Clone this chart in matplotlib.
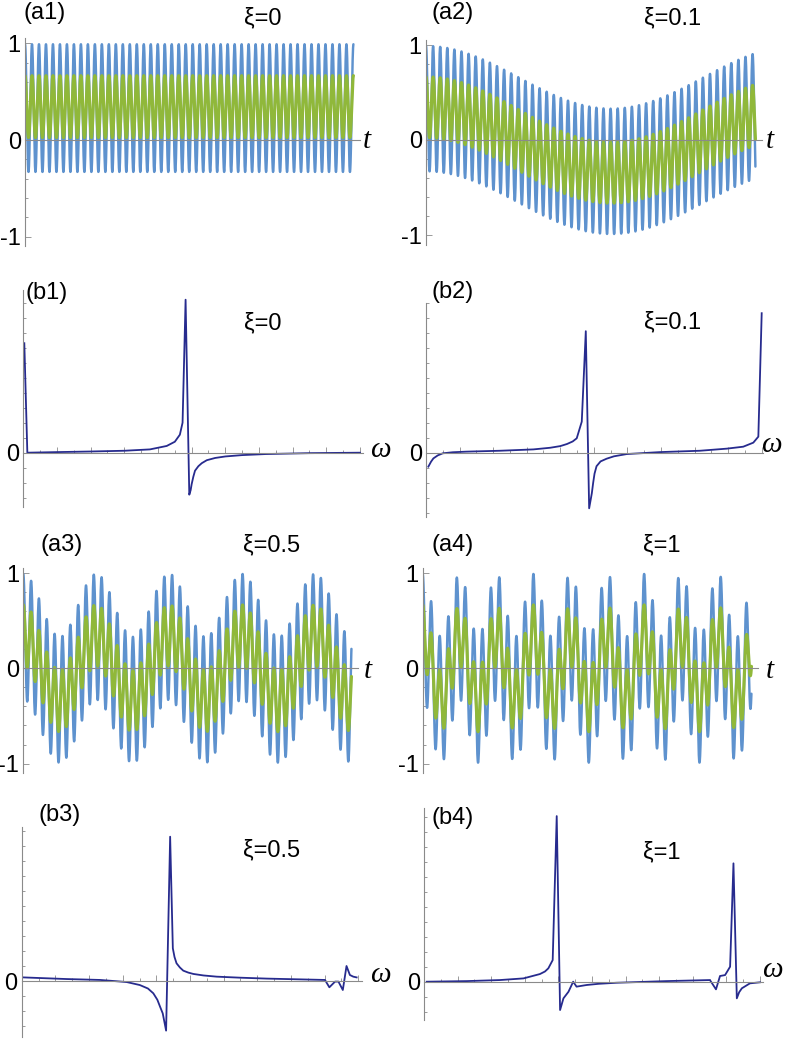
import numpy as np
import matplotlib
matplotlib.use('Agg')
import matplotlib.pyplot as plt
from matplotlib.ticker import MultipleLocator

plt.rcParams['font.family'] = ['Liberation Sans', 'DejaVu Sans']
plt.rcParams['axes.unicode_minus'] = False

# ---- time signals (a1..a4) ----
a_labels = ['(a1)', '(a2)', '(a3)', '(a4)']
a_xi = ['ξ=0', 'ξ=0.1', 'ξ=0.5', 'ξ=1']
fast_cycles = [47.0, 46.4, 41.9, 38.6]   # fast oscillations across the window
slow_cycles = [0.0, 0.89, 4.5, 8.9]      # slow drift cycles across the window
blue_offset = [0.33, 0.33, 0.33, 0.33]
blue_amp = [0.66, 0.66, 0.66, 0.66]
green_offset = [0.345, 0.345, 0.345, 0.345]
green_amp = [0.32, 0.32, 0.32, 0.32]

# ---- spectra (b1..b4): omega as fraction of plotted range, value in arb. units ----
b_labels = ['(b1)', '(b2)', '(b3)', '(b4)']
b_xi = ['ξ=0', 'ξ=0.1', 'ξ=0.5', 'ξ=1']
b1_w = [0.003, 0.012, 0.1, 0.2, 0.3, 0.376, 0.426, 0.45, 0.465, 0.473, 0.482,
        0.493, 0.497, 0.50, 0.505, 0.51, 0.52, 0.53, 0.545, 0.57, 0.6, 0.65,
        0.72, 0.85, 1.0]
b1_s = [0.73, 0.0, 0.004, 0.008, 0.013, 0.022, 0.045, 0.073, 0.12, 0.2, 1.02,
        -0.28, -0.25, -0.21, -0.16, -0.12, -0.09, -0.07, -0.05, -0.035, -0.025,
        -0.016, -0.009, -0.003, 0.0]
b2_w = [0.007, 0.015, 0.022, 0.035, 0.05, 0.08, 0.12, 0.22, 0.32, 0.37, 0.40,
        0.42, 0.437, 0.449, 0.464, 0.476, 0.486, 0.494, 0.498, 0.502, 0.508,
        0.52, 0.538, 0.56, 0.598, 0.697, 0.816, 0.896, 0.945, 0.975, 0.99, 1.0]
b2_s = [-0.093, -0.06, -0.038, -0.018, -0.004, 0.003, 0.007, 0.013, 0.022, 0.033,
        0.044, 0.058, 0.075, 0.096, 0.207, 0.81, -0.371, -0.27, -0.2, -0.14,
        -0.09, -0.058, -0.04, -0.024, -0.009, 0.004, 0.013, 0.027, 0.04, 0.067,
        0.107, 0.93]
b3_w = [0.005, 0.134, 0.233, 0.312, 0.351, 0.375, 0.391, 0.403, 0.411, 0.419,
        0.429, 0.441, 0.449, 0.454, 0.46, 0.47, 0.48, 0.495, 0.51, 0.54, 0.579,
        0.65, 0.728, 0.901, 0.914, 0.931, 0.941, 0.954, 0.965, 0.975, 0.985,
        0.995]
b3_s = [0.024, 0.013, 0.007, -0.007, -0.027, -0.05, -0.082, -0.125, -0.171, -0.216,
        -0.331, 0.962, 0.218, 0.16, 0.118, 0.09, 0.069, 0.056, 0.047, 0.037, 0.029,
        0.022, 0.016, 0.007, -0.042, -0.004, -0.004, -0.06, 0.1, 0.04, 0.029,
        0.024]
b4_w = [0.008, 0.127, 0.226, 0.296, 0.345, 0.36, 0.37, 0.383, 0.395, 0.405,
        0.415, 0.43, 0.444, 0.454, 0.484, 0.52, 0.573, 0.722, 0.851, 0.869,
        0.881, 0.896, 0.911, 0.921, 0.931, 0.938, 0.946, 0.97, 1.0]
b4_s = [0.0, 0.004, 0.011, 0.022, 0.051, 0.068, 0.089, 0.144, 1.104, -0.189,
        -0.111, -0.067, 0.0, -0.033, -0.022, -0.014, -0.007, 0.004, 0.011, -0.051,
        0.038, 0.044, 0.1, 0.789, -0.111, -0.07, -0.044, -0.011, -0.004]
b_w = [b1_w, b2_w, b3_w, b4_w]
b_s = [b1_s, b2_s, b3_s, b4_s]

W, H = 787, 1043
fig = plt.figure(figsize=(W / 100, H / 100), dpi=100)

AX_COL = '#8a8a8a'
BLUE = '#5E92CE'
GREEN = '#90B83A'
NAVY = '#272B8E'


def px_axes(left, right, top, bottom):
    return fig.add_axes([left / W, 1 - bottom / H, (right - left) / W, (bottom - top) / H])


def style(ax):
    for s in ['top', 'right']:
        ax.spines[s].set_visible(False)
    ax.spines['bottom'].set_position(('data', 0))
    for s in ['left', 'bottom']:
        ax.spines[s].set_color(AX_COL)
        ax.spines[s].set_linewidth(0.8)
    ax.tick_params(which='both', direction='in', color=AX_COL, width=0.6,
                   labelsize=17, pad=3)
    ax.tick_params(which='major', length=4)
    ax.tick_params(which='minor', length=2.5)
    ax.patch.set_alpha(0)


def ftext(x, y, s, **kw):
    fig.text(x / W, 1 - y / H, s, ha='center', va='center', **kw)


# layout in pixels: (left, axis_end, zero_y, px per unit)
a_layout = [(25, 360, 140, 96.7), (426, 762, 140, 95), (23.3, 358, 668.3, 95.3), (422.7, 758, 668.3, 95.3)]
a_lab_pos = [(45, 13), (453, 13), (62, 545), (453, 545)]
a_xi_pos = [(263, 18), (673, 18), (272, 545), (662, 545)]
a_t_pos = [(367, 141), (770, 141), (368, 671), (770, 671)]

t = np.linspace(0, 1, 9000)
for i in range(4):
    left, right, zy, unit = a_layout[i]
    y0, y1 = -1.1, 1.05
    ax = px_axes(left, right, zy - y1 * unit, zy - y0 * unit)
    slow = np.cos(2 * np.pi * slow_cycles[i] * t)
    fast = np.cos(2 * np.pi * fast_cycles[i] * t)
    blue = blue_offset[i] * slow + blue_amp[i] * fast
    green = green_offset[i] * slow + green_amp[i] * fast
    ax.plot(t, blue, color=BLUE, lw=1.75, solid_capstyle='round')
    ax.plot(t, green, color=GREEN, lw=2.3, solid_capstyle='round')
    ax.set_xlim(0, 1.02)
    ax.set_ylim(y0, y1)
    style(ax)
    ax.set_xticks([])
    ax.set_yticks([-1, 0, 1])
    ax.set_yticklabels(['-1', '0', '1'])
    ax.yaxis.set_minor_locator(MultipleLocator(0.2))
    ftext(*a_lab_pos[i], a_labels[i], fontsize=17)
    ftext(*a_xi_pos[i], a_xi[i], fontsize=17)
    ftext(*a_t_pos[i], 't', fontsize=21, family='Liberation Serif', style='italic')

# layout in pixels: (left, right at omega=1, zero_y, ylim, xlim right)
b_layout = [(23.3, 360, 452.7, (-0.362, 1.085), 1.01),
            (426, 761.7, 452.7, (-0.43, 1.0), 1.005),
            (21.7, 358.3, 981, (-0.37, 1.03), 1.01),
            (424, 760, 981.7, (-0.255, 1.16), 1.01)]
b_lab_pos = [(47, 293), (453, 292), (60, 815), (453, 818)]
b_xi_pos = [(263, 323), (673, 322), (272, 850), (662, 852)]
b_w_pos = [(380, 450), (771, 445), (380, 975), (772, 970)]
unit_b = 150.0

for i in range(4):
    left, r1, zy, (y0, y1), xr = b_layout[i]
    right = left + (r1 - left) * xr
    ax = px_axes(left, right, zy - y1 * unit_b, zy - y0 * unit_b)
    ax.plot(b_w[i], b_s[i], color=NAVY, lw=1.3)
    ax.set_xlim(0, xr)
    ax.set_ylim(y0, y1)
    style(ax)
    ax.xaxis.set_major_locator(MultipleLocator(0.1))
    ax.xaxis.set_minor_locator(MultipleLocator(0.05))
    ax.set_xticklabels([])
    ax.set_yticks([0])
    ax.set_yticklabels(['0'])
    ax.yaxis.set_minor_locator(MultipleLocator(0.1))
    ftext(*b_lab_pos[i], b_labels[i], fontsize=17)
    ftext(*b_xi_pos[i], b_xi[i], fontsize=17)
    ftext(*b_w_pos[i], 'ω', fontsize=21, family='Liberation Serif', style='italic')

fig.savefig('out.png', dpi=100)
